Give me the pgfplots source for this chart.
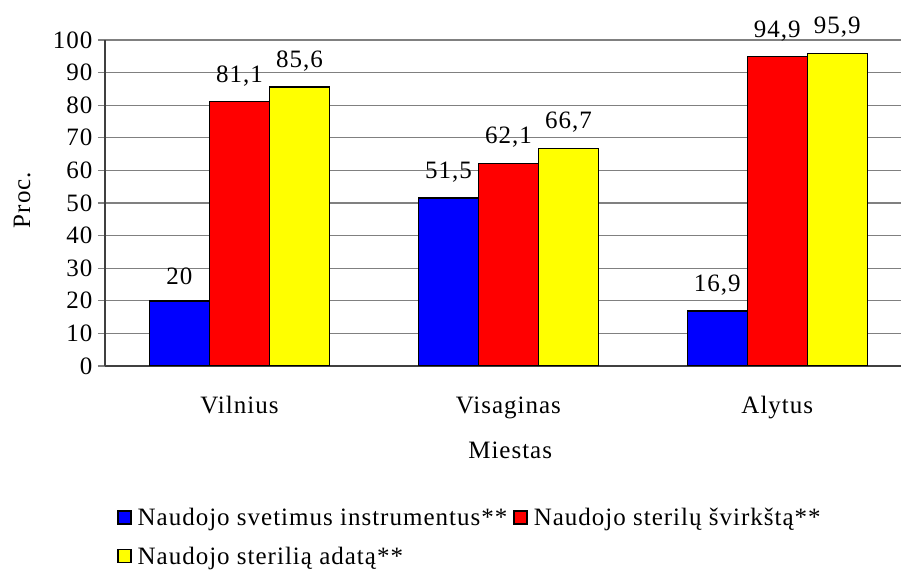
\documentclass[border=0pt]{standalone}
\usepackage{fontspec}
\setmainfont{Liberation Serif}[LetterSpace=4]
\usepackage{pgfplots}
\pgfplotsset{compat=1.18}
\begin{document}
\begin{tikzpicture}
\useasboundingbox (0,0) rectangle (901bp,573bp);
\begin{axis}[
  at={(105bp,207bp)}, anchor=south west,
  scale only axis,
  width=796bp, height=326bp,
  xmin=-0.5, xmax=2.46,
  ymin=0, ymax=100,
  ytick={0,10,...,100},
  xtick={0,1,2},
  xticklabels={Vilnius,Visaginas,Alytus},
  axis lines=left,
  axis line style={-, draw=black!75, line width=1.5bp},
  ymajorgrids,
  grid style={draw=black!50, line width=1.2bp},
  y tick style={draw=black!50, line width=1.2bp},
  tick align=outside,
  major tick length=7bp,
  x tick style={draw=none},
  extra x ticks={-0.5,0.5,1.5},
  extra x tick labels={},
  extra x tick style={grid=none, tick style={draw=black!60, line width=1.2bp}},
  /pgf/number format/assume math mode=true,
  /pgf/number format/use comma,
  ticklabel style={font=\fontsize{25bp}{29bp}\selectfont},
  yticklabel style={xshift=-2bp},
  xticklabel style={yshift=-20bp},
  xlabel={Miestas},
  ylabel={Proc.},
  label style={font=\fontsize{25bp}{29bp}\selectfont},
  xlabel style={at={(axis description cs:0.509,-0.258)}, anchor=center},
  ylabel style={at={(axis description cs:-0.104,0.509)}, anchor=center, rotate=0},
  ybar=0pt,
  bar width=60bp,
  nodes near coords,
  nodes near coords style={font=\fontsize{25bp}{29bp}\selectfont, anchor=south, inner sep=0pt, yshift=15bp, /pgf/number format/use comma, /pgf/number format/assume math mode=true},
  legend columns=2,
  legend cell align=left,
  legend style={at={(axis description cs:0.015,-0.43)}, anchor=north west, draw=none, fill=none,
    font=\fontsize{25bp}{29bp}\selectfont, column sep=4bp, row sep=16bp, inner sep=0pt},
  legend image code/.code={\draw[#1, line width=1.5bp] (0bp,-6bp) rectangle (13bp,7bp);},
]
\addplot[fill={rgb,255:red,0;green,0;blue,255}, draw=black, line width=1.5bp] coordinates {(0,20) (1,51.5) (2,16.9)};
\addplot[fill={rgb,255:red,255;green,0;blue,0}, draw=black, line width=1.5bp] coordinates {(0,81.1) (1,62.1) (2,94.9)};
\addplot[fill={rgb,255:red,255;green,255;blue,0}, draw=black, line width=1.5bp] coordinates {(0,85.6) (1,66.7) (2,95.9)};
\legend{Naudojo svetimus instrumentus**, Naudojo sterilų švirkštą**, Naudojo sterilią adatą**}
\end{axis}
\end{tikzpicture}
\end{document}
